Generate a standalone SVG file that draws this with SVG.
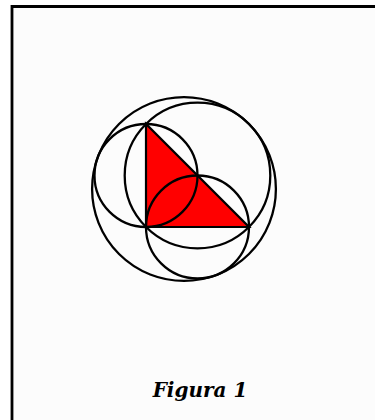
<svg xmlns="http://www.w3.org/2000/svg" width="375" height="420" viewBox="0 0 375 420">
  <style>
    .frame { stroke: #000; stroke-width: 2.8; fill: none; }
    .circ { fill: none; stroke: #000; stroke-width: 2.3; }
    .tri { fill: #FF0000; stroke: #000; stroke-width: 2.2; stroke-linejoin: miter; }
    .cap { font-family: "DejaVu Serif", "Liberation Serif", serif; font-weight: bold; font-style: italic; font-size: 20px; fill: #000; }
  </style>
  <rect x="0" y="0" width="375" height="420" fill="#FFFFFF"/>
  <rect x="12" y="7" width="363" height="413" fill="#FCFCFC"/>
  <g id="frame">
    <path class="frame" d="M12,420 V6.5 H375"/>
  </g>
  <g id="triangle">
    <polygon class="tri" points="146,124 146,227 249,227"/>
  </g>
  <g id="circles">
    <circle id="circle-ab" class="circ" cx="146" cy="175.5" r="51.5"/>
    <circle id="circle-bc" class="circ" cx="197.5" cy="227" r="51.5"/>
    <circle id="circle-ac" class="circ" cx="197.5" cy="175.5" r="72.8"/>
    <circle id="circle-outer" class="circ" cx="184" cy="189" r="91.9"/>
  </g>
  <g id="caption">
    <text class="cap" x="200" y="397" text-anchor="middle">Figura 1</text>
  </g>
</svg>
